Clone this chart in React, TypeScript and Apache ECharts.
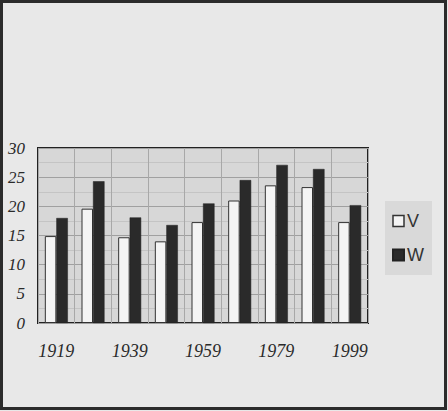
import React, { useEffect, useRef } from "react";
import * as echarts from "echarts";

const categories = ["1919", "1929", "1939", "1949", "1959", "1969", "1979", "1989", "1999"];
const seriesV = [14.9, 19.6, 14.7, 14.0, 17.3, 21.0, 23.6, 23.3, 17.3];
const seriesW = [18.0, 24.3, 18.1, 16.8, 20.5, 24.5, 27.1, 26.4, 20.2];
const yTicks = [0, 5, 10, 15, 20, 25, 30];

export default function App() {
  const ref = useRef<HTMLDivElement>(null);
  useEffect(() => {
    if (!ref.current) return;
    const chart = echarts.init(ref.current, null, { renderer: "svg" });
    chart.setOption({
      animation: false,
      backgroundColor: "#e8e8e8",
      graphic: [
        {
          type: "rect",
          shape: { x: 1.5, y: 1.5, width: 444, height: 407 },
          style: { fill: "none", stroke: "#2b2b2b", lineWidth: 3 },
          silent: true,
        },
      ],
      grid: {
        left: 38,
        right: 80,
        top: 148,
        bottom: 88,
        show: true,
        backgroundColor: "#d7d7d7",
        borderColor: "#222",
        borderWidth: 2,
      },
      legend: {
        orient: "vertical",
        left: 385,
        top: 201,
        width: 49,
        padding: [11, 8, 11, 7],
        itemGap: 16,
        itemWidth: 11,
        itemHeight: 11,
        icon: "rect",
        backgroundColor: "#d9d9d9",
        textStyle: { fontFamily: "Liberation Sans", fontSize: 18, color: "#333", padding: [0, 0, 0, -2] },
        data: [
          { name: "V", itemStyle: { color: "#f4f4f4", borderColor: "#333", borderWidth: 1.5 } },
          { name: "W", itemStyle: { color: "#2a2a2a" } },
        ],
      },
      xAxis: {
        type: "category",
        data: categories,
        axisLine: { show: false },
        axisTick: { show: false },
        axisLabel: {
          interval: 1,
          margin: 19,
          fontFamily: "Liberation Serif",
          fontStyle: "italic",
          fontSize: 18,
          color: "#2a2a2a",
        },
        splitLine: { show: true, interval: 0, lineStyle: { color: "#a8a8a8", width: 1 } },
      },
      yAxis: {
        type: "value",
        min: yTicks[0],
        max: yTicks[yTicks.length - 1],
        interval: 5,
        axisLine: { show: false },
        axisTick: { show: false },
        axisLabel: {
          margin: 13,
          fontFamily: "Liberation Serif",
          fontStyle: "italic",
          fontSize: 17,
          color: "#2a2a2a",
        },
        splitLine: { show: true, lineStyle: { color: "#a0a0a0", width: 1 } },
        minorTick: { show: false, splitNumber: 2 },
        minorSplitLine: { show: true, lineStyle: { color: "#c4c4c4", width: 1 } },
      },
      series: [
        {
          name: "V",
          type: "bar",
          data: seriesV,
          barWidth: 11.5,
          barGap: "0%",
          itemStyle: { color: "#f4f4f4", borderColor: "#333", borderWidth: 1 },
        },
        {
          name: "W",
          type: "bar",
          data: seriesW,
          barWidth: 11.5,
          barGap: "0%",
          itemStyle: { color: "#2a2a2a", borderColor: "#222", borderWidth: 0.5 },
        },
      ],
    });
    return () => chart.dispose();
  }, []);
  return (
    <div
      ref={ref}
      style={{ position: "absolute", left: 0, top: 0, width: 448, height: 411 }}
    />
  );
}
